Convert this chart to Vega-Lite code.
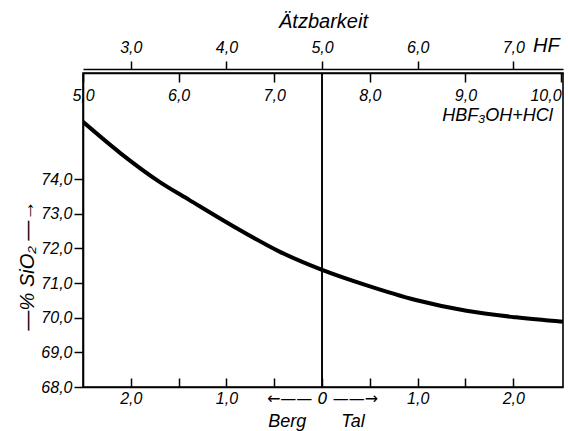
{
  "$schema": "https://vega.github.io/schema/vega-lite/v6.json",
  "width": 480,
  "height": 314,
  "autosize": {"type": "none"},
  "padding": {"left": 83, "top": 73, "right": 5, "bottom": 44},
  "background": "white",
  "config": {
    "view": {"stroke": "black", "strokeWidth": 1.6},
    "axis": {
      "labelFont": "Liberation Sans",
      "titleFont": "Liberation Sans",
      "labelFontStyle": "italic",
      "titleFontStyle": "italic",
      "titleFontWeight": "normal",
      "labelColor": "black",
      "titleColor": "black",
      "domainColor": "black",
      "domainWidth": 1.6,
      "tickColor": "black",
      "tickWidth": 1.5,
      "grid": false,
      "labelFontSize": 16,
      "titleFontSize": 18,
      "labelFlush": false,
      "labelOverlap": false,
      "labelBound": false
    }
  },
  "datasets": {
    "curve": [
      {"shift": -2.50, "sio2": 75.65},
      {"shift": -2.11, "sio2": 74.75},
      {"shift": -1.70, "sio2": 73.92},
      {"shift": -1.39, "sio2": 73.40},
      {"shift": -0.86, "sio2": 72.53},
      {"shift": -0.44, "sio2": 71.90},
      {"shift": 0.00, "sio2": 71.38},
      {"shift": 0.46, "sio2": 70.94},
      {"shift": 0.98, "sio2": 70.51},
      {"shift": 1.51, "sio2": 70.20},
      {"shift": 2.03, "sio2": 70.01},
      {"shift": 2.52, "sio2": 69.88}
    ],
    "center": [{"shift": 0}]
  },
  "layer": [
    {
      "data": {"name": "curve"},
      "mark": {"type": "line", "color": "black", "strokeWidth": 4, "interpolate": "monotone", "clip": true},
      "encoding": {
        "x": {
          "field": "shift", "type": "quantitative",
          "scale": {"domain": [-2.5, 2.52], "nice": false, "zero": false},
          "axis": {
            "orient": "bottom",
            "title": "Berg\u00a0\u00a0\u00a0\u00a0\u00a0\u00a0\u00a0Tal",
            "titleX": 233,
            "titleY": 34,
            "titleBaseline": "middle",
            "titleFontSize": 18,
            "values": [-2, -1.5, -1, -0.5, 0, 0.5, 1, 1.5, 2],
            "labelExpr": "datum.value == 0 ? '←——\u00a00\u00a0——→' : (datum.value % 1 != 0 ? '' : replace(format(abs(datum.value), '.1f'), '.', ','))",
            "labelFont": {"condition": {"test": "datum.value == 0", "value": "DejaVu Sans"}, "value": "Liberation Sans"},
            "tickSize": -9,
            "labelPadding": 12,
            "labelDx": 3
          }
        },
        "y": {
          "field": "sio2", "type": "quantitative",
          "scale": {"domain": [68, 77.06], "nice": false, "zero": false},
          "axis": {
            "values": [68, 69, 70, 71, 72, 73, 74],
            "labelExpr": "replace(format(datum.value, '.1f'), '.', ',')",
            "tickSize": 9,
            "labelPadding": 2,
            "title": "—% SiO₂ —→",
            "titleX": -56,
            "titleY": 192,
            "titleBaseline": "middle",
            "titleFontSize": 20
          }
        }
      }
    },
    {
      "data": {"name": "center"},
      "mark": {"type": "rule", "color": "black", "strokeWidth": 1.6},
      "encoding": {
        "x": {
          "field": "shift", "type": "quantitative",
          "axis": {
            "orient": "top",
            "offset": 4,
            "title": "Ätzbarkeit",
            "titleY": -42,
            "titleBaseline": "alphabetic",
            "titleFontSize": 20,
            "values": [-2, -1, 0, 1, 2, 2.34],
            "labelExpr": "datum.value > 2.1 ? 'HF' : replace(format(datum.value + 5, '.1f'), '.', ',')",
            "labelFontSize": {"condition": {"test": "datum.value > 2.1", "value": 20}, "value": 16},
            "tickOpacity": {"condition": {"test": "datum.value > 2.1", "value": 0}, "value": 1},
            "tickSize": 8,
            "labelPadding": 6,
            "labelDx": 4
          }
        }
      }
    },
    {
      "data": {"name": "center"},
      "mark": {"type": "rule", "color": "black", "strokeWidth": 1.6},
      "encoding": {
        "x": {
          "field": "shift", "type": "quantitative",
          "axis": {
            "orient": "top",
            "offset": 0,
            "title": "HBF₃OH+HCl",
            "titleX": 414,
            "titleY": 42,
            "titleBaseline": "middle",
            "titleAlign": "center",
            "titleFontSize": 18,
            "values": [-2.5, -1.5, -0.5, 0.5, 1.5, 2.5],
            "labelExpr": "replace(format(datum.value + 7.5, '.1f'), '.', ',')",
            "labelBaseline": "middle",
            "labelAlign": {"condition": {"test": "datum.value > 2.4", "value": "right"}, "value": "center"},
            "tickSize": -9,
            "labelPadding": -13,
            "labelDx": 2
          }
        }
      }
    }
  ],
  "resolve": {"axis": {"x": "independent"}}
}
